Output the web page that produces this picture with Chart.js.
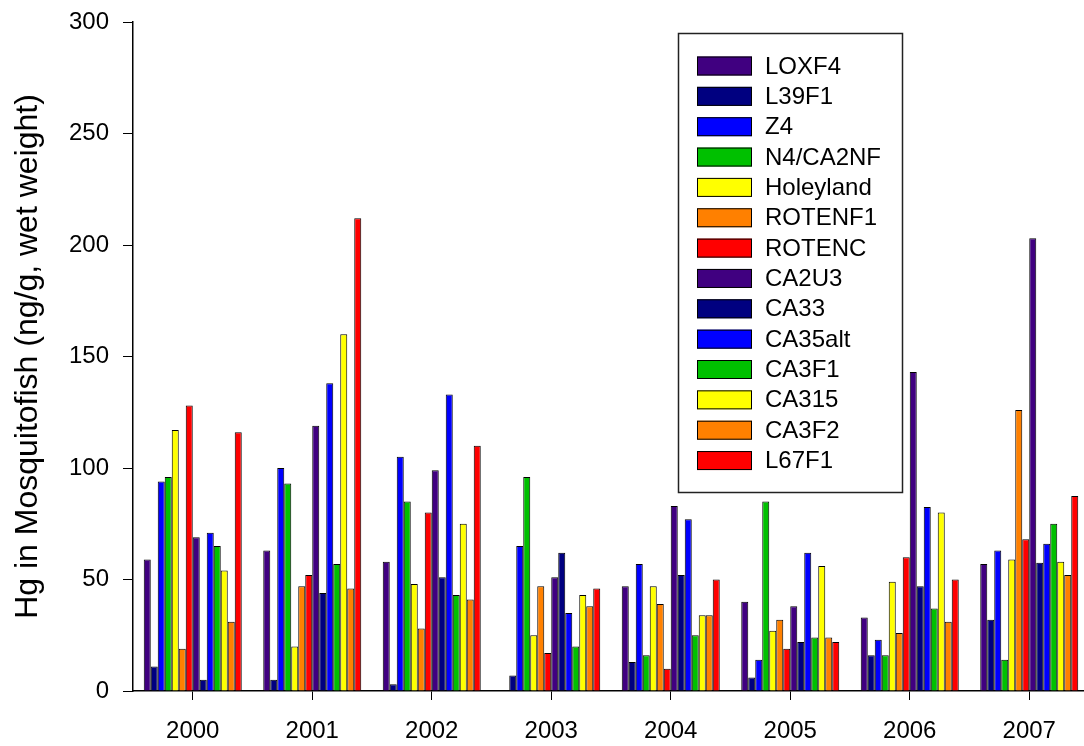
<!DOCTYPE html>
<html>
<head>
<meta charset="utf-8">
<script src="https://cdn.jsdelivr.net/npm/chart.js@4"></script>
<style>
  html, body { margin: 0; padding: 0; background: #fff; overflow: hidden; }
  canvas { display: block; }
</style>
</head>
<body>
<canvas id="hgChart" width="1100" height="746"></canvas>
<script>
  const years = ['2000', '2001', '2002', '2003', '2004', '2005', '2006', '2007']
  const sites = ['LOXF4', 'L39F1', 'Z4', 'N4/CA2NF', 'Holeyland', 'ROTENF1', 'ROTENC',
    'CA2U3', 'CA33', 'CA35alt', 'CA3F1', 'CA315', 'CA3F2', 'L67F1']

  const loxf4 = [59, 63, 58, null, 47, 40, 33, 57]
  const l39f1 = [11, 5, 3, 7, 13, 6, 16, 32]
  const z4 = [94, 100, 105, 65, 57, 14, 23, 63]
  const n4ca2nf = [96, 93, 85, 96, 16, 85, 16, 14]
  const holeyland = [117, 20, 48, 25, 47, 27, 49, 59]
  const rotenf1 = [19, 47, 28, 47, 39, 32, 26, 126]
  const rotenc = [128, 52, 80, 17, 10, 19, 60, 68]
  const ca2u3 = [69, 119, 99, 51, 83, 38, 143, 203]
  const ca33 = [5, 44, 51, 62, 52, 22, 47, 57.5]
  const ca35alt = [71, 138, 133, 35, 77, 62, 82.5, 66]
  const ca3f1 = [65, 57, 43, 20, 25, 24, 37, 75]
  const ca315 = [54, 160, 75, 43, 34, 56, 80, 58]
  const ca3f2 = [31, 46, 41, 38, 34, 24, 31, 52]
  const l67f1 = [116, 212, 110, 46, 50, 22, 50, 87.5]

  const series = [loxf4, l39f1, z4, n4ca2nf, holeyland, rotenf1, rotenc,
    ca2u3, ca33, ca35alt, ca3f1, ca315, ca3f2, l67f1]
  const palette = ['#400080', '#000080', '#0000ff', '#00c000', '#ffff00', '#ff8000', '#ff0000']

  const FONT = 'Liberation Sans, Arial, sans-serif'

  // legend box drawn inside the plot, like the original
  const boxLegend = {
    id: 'boxLegend',
    afterDraw(chart) {
      const ctx = chart.ctx
      ctx.save()
      ctx.strokeStyle = '#222'
      ctx.lineWidth = 1.5
      ctx.strokeRect(678.5, 33.5, 224, 459)
      ctx.font = '24px ' + FONT
      ctx.textBaseline = 'middle'
      chart.data.datasets.forEach((ds, i) => {
        const y = 66 + i * 30.35
        ctx.fillStyle = ds.backgroundColor
        ctx.fillRect(697, y - 9.5, 55, 19)
        ctx.lineWidth = 1
        ctx.strokeStyle = '#000'
        ctx.strokeRect(697.5, y - 9, 54, 18)
        ctx.fillStyle = '#000'
        ctx.fillText(ds.label, 765, y + 1)
      })
      ctx.restore()
    }
  }

  const hgChart = new Chart(document.getElementById('hgChart'), {
    type: 'bar',
    data: {
      labels: years,
      datasets: series.map((vals, ix) => ({
        label: sites[ix],
        data: vals,
        backgroundColor: palette[ix % 7],
        borderColor: '#000',
        borderWidth: 1,
        borderSkipped: 'bottom',
        categoryPercentage: 0.82,
        barPercentage: 1.0
      }))
    },
    options: {
      responsive: false,
      animation: false,
      layout: { padding: { left: 0, right: 11, top: 22, bottom: 0 } },
      plugins: {
        legend: { display: false },
        tooltip: { enabled: false }
      },
      scales: {
        x: {
          grid: { offset: false, drawOnChartArea: false, drawTicks: true, tickLength: 9, color: '#000' },
          border: { display: true, color: '#000', width: 1.5 },
          ticks: { color: '#000', font: { family: FONT, size: 24 }, padding: 17 },
          afterFit(scale) { scale.height = 55 }
        },
        y: {
          min: 0,
          max: 300,
          grid: { drawOnChartArea: false, drawTicks: true, tickLength: 10, color: '#000' },
          border: { display: true, color: '#000', width: 1.5 },
          ticks: { stepSize: 50, color: '#000', font: { family: FONT, size: 24, lineHeight: 0.5 }, padding: 14 },
          title: {
            display: true,
            text: 'Hg in Mosquitofish (ng/g, wet weight)',
            color: '#000',
            font: { family: FONT, size: 32 },
            padding: { top: 9, bottom: 0 }
          },
          afterFit(scale) { scale.width = 133 }
        }
      }
    },
    plugins: [boxLegend]
  })
</script>
</body>
</html>
